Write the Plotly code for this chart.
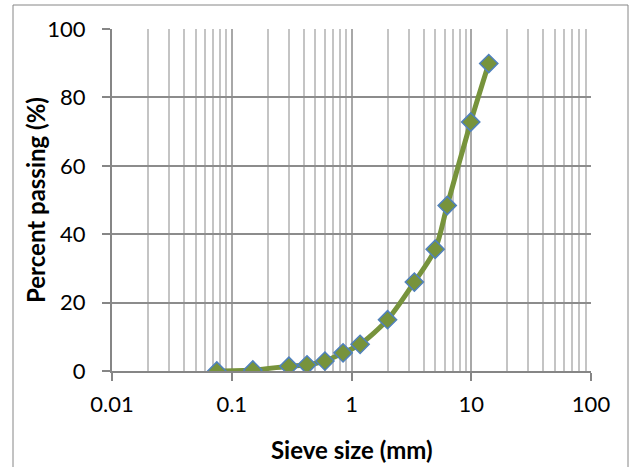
import plotly.graph_objects as go

sieve_mm = [0.075, 0.15, 0.3, 0.425, 0.6, 0.85, 1.18, 2.0, 3.35, 5.0, 6.3, 9.9, 14.0]
passing = [0.0, 0.3, 1.4, 1.8, 2.9, 5.3, 7.8, 15.0, 26.0, 35.6, 48.4, 72.8, 89.9]
x_tickvals = [0.01, 0.1, 1, 10, 100]
x_ticktext = ["0.01", "0.1", "1", "10", "100"]
y_tickvals = [0, 20, 40, 60, 80, 100]

FONT = "Lato"
W, H = 629, 467
L, R, T, B = 112, 38, 29, 96
pw, ph = W - L - R, H - T - B

fig = go.Figure()
fig.add_trace(go.Scatter(
    x=sieve_mm, y=passing, mode="lines+markers",
    line=dict(color="#77933C", width=5, shape="spline", smoothing=0.8),
    marker=dict(symbol="diamond", size=14, color="#77933C",
                line=dict(color="#4F81BD", width=1.5)),
    showlegend=False,
))

fig.update_layout(
    width=W, height=H,
    margin=dict(l=L, r=R, t=T, b=B),
    paper_bgcolor="white", plot_bgcolor="white",
    font=dict(family=FONT, size=22, color="black"),
    xaxis=dict(
        type="log", range=[-2, 2],
        tickvals=x_tickvals, ticktext=x_ticktext,
        showgrid=True, gridcolor="#A8A8A8", gridwidth=2,
        minor=dict(dtick="D1", showgrid=True, gridcolor="#C4C4C4", gridwidth=2, ticks=""),
        showline=True, linecolor="#868686", linewidth=2,
        ticks="outside", ticklen=8, tickcolor="#868686", tickwidth=2,
        ticklabelstandoff=5, zeroline=False,
    ),
    yaxis=dict(
        range=[0, 100], tickvals=y_tickvals,
        showgrid=True, gridcolor="#8C8C8C", gridwidth=2,
        showline=True, linecolor="#868686", linewidth=2,
        ticks="outside", ticklen=8, tickcolor="#868686", tickwidth=2,
        ticklabelstandoff=12, zeroline=False,
    ),
    shapes=[dict(
        type="rect", xref="paper", yref="paper",
        x0=(13 - L) / pw, x1=(628 - L) / pw,
        y0=(H - B - 475) / ph, y1=(H - B - 5) / ph,
        line=dict(color="#868686", width=1), fillcolor="rgba(0,0,0,0)",
        layer="below",
    )],
    annotations=[
        dict(text="<b>Sieve size (mm)</b>", xref="paper", yref="paper",
             x=0.5, y=(H - B - 450) / ph, showarrow=False,
             font=dict(family=FONT, size=24), xanchor="center", yanchor="middle"),
        dict(text="<b>Percent passing (%)</b>", xref="paper", yref="paper",
             x=(35 - L) / pw, y=(H - B - 200) / ph, showarrow=False, textangle=-90,
             font=dict(family=FONT, size=24), xanchor="center", yanchor="middle"),
    ],
)

fig.write_html("out.html", config={"displayModeBar": False},
               post_script="document.body.style.margin='0';document.body.style.overflow='hidden';")
